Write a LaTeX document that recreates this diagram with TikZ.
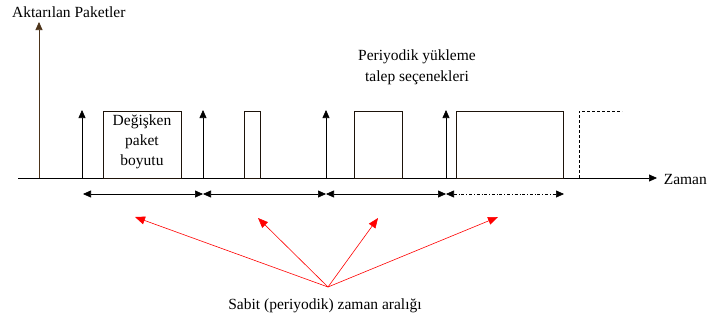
\documentclass[tikz,border=0pt]{standalone}
\usepackage{fontspec}
\setmainfont{Liberation Serif}
\usetikzlibrary{arrows.meta}
\begin{document}
\begin{tikzpicture}[x=1pt,y=-1pt,
  lbl/.style={inner sep=0pt,font=\fontsize{15.5}{20}\selectfont},
  tip/.style={-{Triangle[length=8pt,width=7pt]}},
  dtip/.style={{Triangle[length=8pt,width=7pt]}-{Triangle[length=8pt,width=7pt]}},
  pbox/.style={draw=black!85!brown,line width=1.2pt,inner sep=0pt,anchor=north west},
  redarr/.style={red,line width=0.6pt,-{Triangle[length=10pt,width=8pt]}}]
\useasboundingbox (0,0) rectangle (708,322);
% axes
\coordinate (o) at (39,178);
\coordinate (ytop) at (39,22);
\coordinate (xl) at (18,178);
\coordinate (xr) at (657,178);
\draw[tip,line width=0.7pt,draw=black!60!brown] (o) -- (ytop);
\draw[tip,line width=0.7pt] (xl) -- (xr);
\node[lbl,anchor=west] (ylab) at (12,12) {Aktarılan Paketler};
\node[lbl,anchor=east] (xlab) at (707,179) {Zaman};
% request arrows
\foreach \n/\x in {a/82,b/203,c/326,d/446}{
  \coordinate (\n0) at (\x,178);
  \coordinate (\n1) at (\x,110);
  \draw[tip,line width=0.6pt] (\n0) -- (\n1);
}
% packet boxes
\node[pbox,minimum width=78pt,minimum height=67pt] (p1) at (103,111) {};
\node[lbl,align=center] (p1t) at (142,142) {Değişken\\paket\\boyutu};
\node[pbox,minimum width=16pt,minimum height=67pt] (p2) at (244,111) {};
\node[pbox,minimum width=48pt,minimum height=67pt] (p3) at (354,111) {};
\node[pbox,minimum width=107pt,minimum height=67pt] (p4) at (456,111) {};
% dashed next box
\coordinate (q0) at (579,178);
\coordinate (q1) at (579,111);
\coordinate (q2) at (622,111);
\draw[densely dashed,line width=0.5pt] (q0) -- (q1) -- (q2);
% interval arrows
\foreach \n/\x in {e/83,f/203,g/326,h/446,i/564}{\coordinate (\n) at (\x,194);}
\draw[dtip,line width=0.6pt] (e) -- (f);
\draw[dtip,line width=0.6pt] (f) -- (g);
\draw[dtip,line width=0.6pt] (g) -- (h);
\draw[dtip,line width=0.6pt,dash dot] (h) -- (i);
% label top
\node[lbl,align=center] (top) at (417,67) {Periyodik yükleme\\[1pt]talep seçenekleri};
% red arrows
\coordinate (r) at (328,287);
\coordinate (r1) at (135,217);
\coordinate (r2) at (258,218);
\coordinate (r3) at (378,218);
\coordinate (r4) at (498,217);
\foreach \t in {r1,r2,r3,r4}{\draw[redarr] (r) -- (\t);}
\node[lbl] (bot) at (325,306) {Sabit (periyodik) zaman aralığı};
\end{tikzpicture}
\end{document}
